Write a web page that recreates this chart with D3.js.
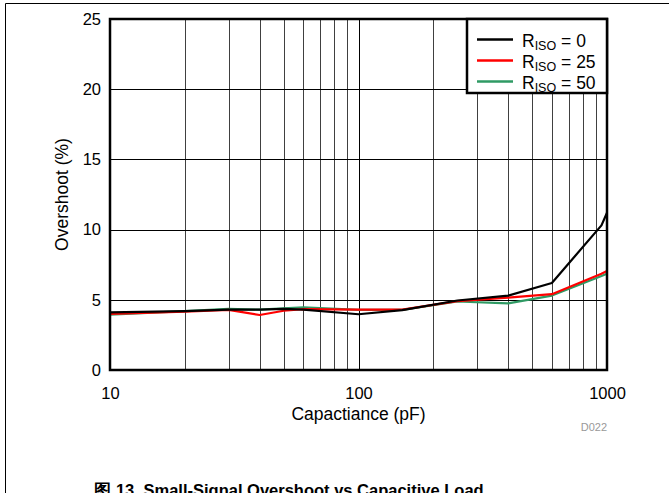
<!DOCTYPE html>
<html>
<head>
<meta charset="utf-8">
<script src="https://cdn.jsdelivr.net/npm/d3@7"></script>
<style>
  body { margin: 0; background: #fff; }
  svg text { font-family: "Liberation Sans", Arial, sans-serif; }
</style>
</head>
<body>
<div id="vis-container"></div>
<script>
// width and height
const w = 669
const h = 493
const margin = { left: 110, right: 62, top: 19, bottom: 123 };

// capacitance (pF)
const capacitance = [10, 20, 30, 40, 50, 60, 100, 150, 250, 400, 600, 950, 1000];
// overshoot (%) for each R_ISO
const riso0 = [4.1, 4.2, 4.3, 4.3, 4.35, 4.3, 3.97, 4.27, 4.95, 5.3, 6.2, 10.3, 11.2];
const riso25 = [4.0, 4.15, 4.28, 3.92, 4.22, 4.34, 4.3, 4.3, 4.9, 5.15, 5.4, 6.85, 7.05];
const riso50 = [3.95, 4.2, 4.35, 4.3, 4.4, 4.47, 4.28, 4.28, 4.88, 4.74, 5.3, 6.7, 6.85];
const seriesNames = ["0", "25", "50"];
const seriesColors = ["#000000", "#ff0000", "#2f9a64"];
const xTicks = [10, 100, 1000];
const yTicks = [0, 5, 10, 15, 20, 25];

const series = [riso0, riso25, riso50].map((vals, i) => ({
    name: seriesNames[i],
    color: seriesColors[i],
    points: capacitance.map((c, j) => [c, vals[j]])
}));

const svg = d3.select("#vis-container")
    .append("svg")
    .attr("width", w)
    .attr("height", h);

// outer frame (top and left edges visible)
svg.append("path")
    .attr("d", `M5.5,${h} V3.5 H${w}`)
    .attr("fill", "none")
    .attr("stroke", "#000")
    .attr("stroke-width", 1);

const x = d3.scaleLog()
    .domain([10, 1000])
    .range([margin.left, w - margin.right]);

const y = d3.scaleLinear()
    .domain([0, 25])
    .range([h - margin.bottom, margin.top]);

// vertical grid: all decade minor lines
const gridX = [];
[10, 100].forEach(d => { for (let k = 2; k <= 9; k++) gridX.push(d * k); });
gridX.push(100);

svg.append("g")
    .selectAll("line")
    .data(gridX)
    .enter()
    .append("line")
    .attr("x1", d => Math.round(x(d)) + 0.5)
    .attr("x2", d => Math.round(x(d)) + 0.5)
    .attr("y1", y(25))
    .attr("y2", y(0))
    .attr("stroke", "#000")
    .attr("stroke-width", 1)
    .attr("stroke-opacity", d => d === 100 ? 1 : 0.75);

// horizontal grid
svg.append("g")
    .selectAll("line")
    .data(yTicks.slice(1, -1))
    .enter()
    .append("line")
    .attr("x1", x(10))
    .attr("x2", x(1000))
    .attr("y1", d => Math.round(y(d)) + 0.5)
    .attr("y2", d => Math.round(y(d)) + 0.5)
    .attr("stroke", "#000")
    .attr("stroke-width", 1);

// x axis labels
const xAxis = d3.axisBottom(x)
    .tickValues(xTicks)
    .tickFormat(d3.format("d"))
    .tickSize(0);

svg.append("g")
    .attr("transform", "translate(0," + y(0) + ")")
    .call(xAxis)
    .call(g => g.select(".domain").remove())
    .selectAll("text")
    .attr("y", 29)
    .attr("dy", null)
    .attr("font-size", 16.5)
    .attr("fill", "#000")
    .attr("font-family", "Liberation Sans, Arial, sans-serif");

// y axis labels
const yAxis = d3.axisLeft(y)
    .tickValues(yTicks)
    .tickSize(0)
    .tickPadding(9);

svg.append("g")
    .attr("transform", "translate(" + x(10) + ",0)")
    .call(yAxis)
    .call(g => g.select(".domain").remove())
    .selectAll("text")
    .attr("font-size", 16.5)
    .attr("fill", "#000")
    .attr("font-family", "Liberation Sans, Arial, sans-serif");

// lines
const line = d3.line()
    .x(d => x(d[0]))
    .y(d => y(d[1]));

svg.append("g")
    .selectAll("path")
    .data(series.slice().reverse())
    .enter()
    .append("path")
    .attr("d", d => line(d.points))
    .attr("fill", "none")
    .attr("stroke", d => d.color)
    .attr("stroke-width", 2.2)
    .attr("stroke-linejoin", "round");

// plot border
svg.append("rect")
    .attr("x", x(10))
    .attr("y", y(25))
    .attr("width", x(1000) - x(10))
    .attr("height", y(0) - y(25))
    .attr("fill", "none")
    .attr("stroke", "#000")
    .attr("stroke-width", 2.5);

// axis titles
svg.append("text")
    .attr("x", (x(10) + x(1000)) / 2)
    .attr("y", 420)
    .attr("text-anchor", "middle")
    .attr("font-size", 17.5)
    .text("Capactiance (pF)");

svg.append("text")
    .attr("transform", "translate(68," + ((y(0) + y(25)) / 2) + ") rotate(-90)")
    .attr("text-anchor", "middle")
    .attr("font-size", 17.5)
    .text("Overshoot (%)");

svg.append("text")
    .attr("x", 607)
    .attr("y", 431)
    .attr("text-anchor", "end")
    .attr("font-size", 11)
    .attr("fill", "#999")
    .text("D022");

// caption (cut off at the bottom)
svg.append("text")
    .attr("x", 289)
    .attr("y", 496)
    .attr("text-anchor", "middle")
    .attr("font-size", 16.5)
    .attr("font-weight", "bold")
    .text("图 13. Small-Signal Overshoot vs Capacitive Load");

// legend
const legend = svg.append("g");
legend.append("rect")
    .attr("x", 467)
    .attr("y", y(25))
    .attr("width", x(1000) - 467)
    .attr("height", 74)
    .attr("fill", "#fff")
    .attr("stroke", "#000")
    .attr("stroke-width", 2.5);

const items = legend.selectAll(".legend")
    .data(series)
    .enter().append("g")
    .attr("class", "legend")
    .attr("transform", (d, i) => "translate(0," + (39.5 + i * 21) + ")");

items.append("line")
    .attr("x1", 477)
    .attr("x2", 513)
    .attr("stroke", d => d.color)
    .attr("stroke-width", 2.5);

const lt = items.append("text")
    .attr("x", 522)
    .attr("y", 7)
    .attr("font-size", 17.5);
lt.append("tspan").text("R");
lt.append("tspan").attr("font-size", 12.5).attr("dy", 3).text("ISO");
lt.append("tspan").attr("dy", -3).text(d => " = " + d.name);
</script>
</body>
</html>
